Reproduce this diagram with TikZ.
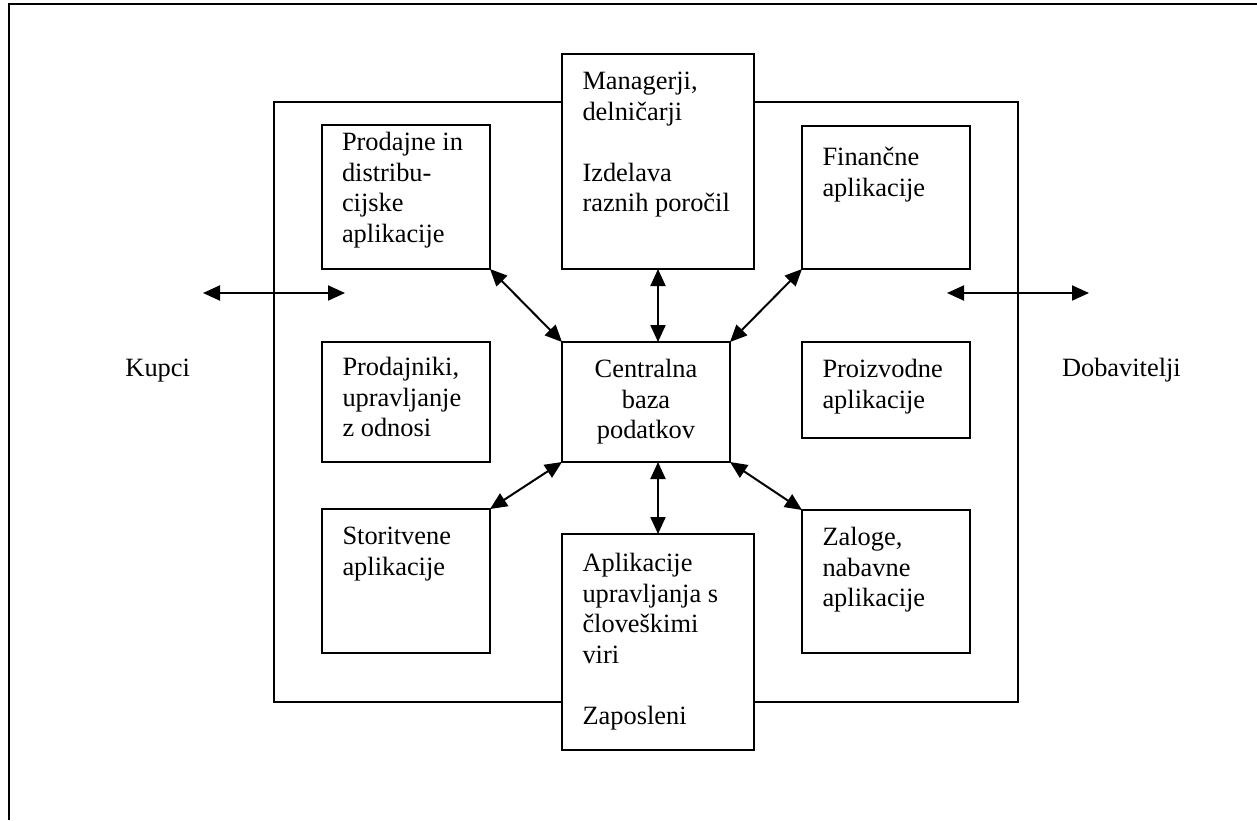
\documentclass[tikz,border=0pt]{standalone}
\usepackage{fontspec}
\setmainfont{Liberation Serif}
\usetikzlibrary{arrows.meta}
\begin{document}
\begin{tikzpicture}[x=1pt,y=-1pt,
  box/.style={draw, line width=2pt, fill=white, inner sep=0pt, outer sep=0pt},
  txt/.style={inner sep=0pt, outer sep=0pt, align=left, anchor=north west,
    font=\fontsize{26.4}{30.5}\selectfont},
  label/.style={inner sep=0pt, outer sep=0pt, font=\fontsize{26.4}{30.5}\selectfont},
  link/.style={line width=2pt, {Triangle[length=17pt,width=15pt]}-{Triangle[length=17pt,width=15pt]}},
  frame/.style={line width=2pt}]
\useasboundingbox (0,0) rectangle (1257,820);

% page frame and enterprise boundary
\draw[line width=2.5pt] (9,820) -- (9,4) -- (1257,4);
\draw[frame] (274,102) rectangle (1018,702);

% application boxes
\node[box, minimum width=168pt, minimum height=144pt] (prod)  at (406,197)   {};
\node[box, minimum width=192pt, minimum height=215pt] (mgr)   at (658,161.5) {};
\node[box, minimum width=168pt, minimum height=143pt] (fin)   at (886,197.5) {};
\node[box, minimum width=168pt, minimum height=120pt] (prdk)  at (406,402)   {};
\node[box, minimum width=168pt, minimum height=120pt] (cent)  at (646,402)   {};
\node[box, minimum width=168pt, minimum height=96pt]  (proiz) at (886,390)   {};
\node[box, minimum width=168pt, minimum height=144pt] (stor)  at (406,581)   {};
\node[box, minimum width=192pt, minimum height=216pt] (apl)   at (658,642)   {};
\node[box, minimum width=168pt, minimum height=143pt] (zal)   at (886,581.5) {};

% box texts
\node[txt] (tprod)  at ([shift={(20,7.5)}]prod.north west)  {Prodajne in\\distribu-\\cijske\\aplikacije};
\node[txt] (tmgr)   at ([shift={(20.5,18.5)}]mgr.north west) {Managerji,\\delničarji\\[30.5pt]Izdelava\\raznih poročil};
\node[txt] (tfin)   at ([shift={(20.5,21.5)}]fin.north west) {Finančne\\aplikacije};
\node[txt] (tprdk)  at ([shift={(20.5,15.5)}]prdk.north west) {Prodajniki,\\upravljanje\\z odnosi};
\node[label, align=center] (tcent) at (cent.center) {Centralna\\baza\\podatkov};
\node[txt] (tproiz) at ([shift={(20.5,17.5)}]proiz.north west) {Proizvodne\\aplikacije};
\node[txt] (tstor)  at ([shift={(20.5,18.5)}]stor.north west) {Storitvene\\aplikacije};
\node[txt] (tapl)   at ([shift={(20.5,19.5)}]apl.north west) {Aplikacije\\upravljanja s\\človeškimi\\viri\\[30.5pt]Zaposleni};
\node[txt] (tzal)   at ([shift={(20.5,17.5)}]zal.north west) {Zaloge,\\nabavne\\aplikacije};

% outside parties
\node[label, anchor=base east] (kupci) at (190,376)  {Kupci};
\node[label, anchor=base west] (dob)   at (1062,376) {Dobavitelji};

% links to the central database
\draw[link] (prod.south east) -- (cent.north west);
\draw[link] (mgr.south) -- (mgr.south |- cent.north);
\draw[link] (fin.south west) -- (cent.north east);
\draw[link] (stor.north east) -- (cent.south west);
\draw[link] (apl.north) -- (apl.north |- cent.south);
\draw[link] (zal.north west) -- (cent.south east);

% exchanges with customers and suppliers
\coordinate (ka) at (203,293);
\coordinate (kb) at (345,293);
\coordinate (da) at (947,293);
\coordinate (db) at (1089,293);
\draw[link] (ka) -- (kb);
\draw[link] (da) -- (db);
\end{tikzpicture}
\end{document}
